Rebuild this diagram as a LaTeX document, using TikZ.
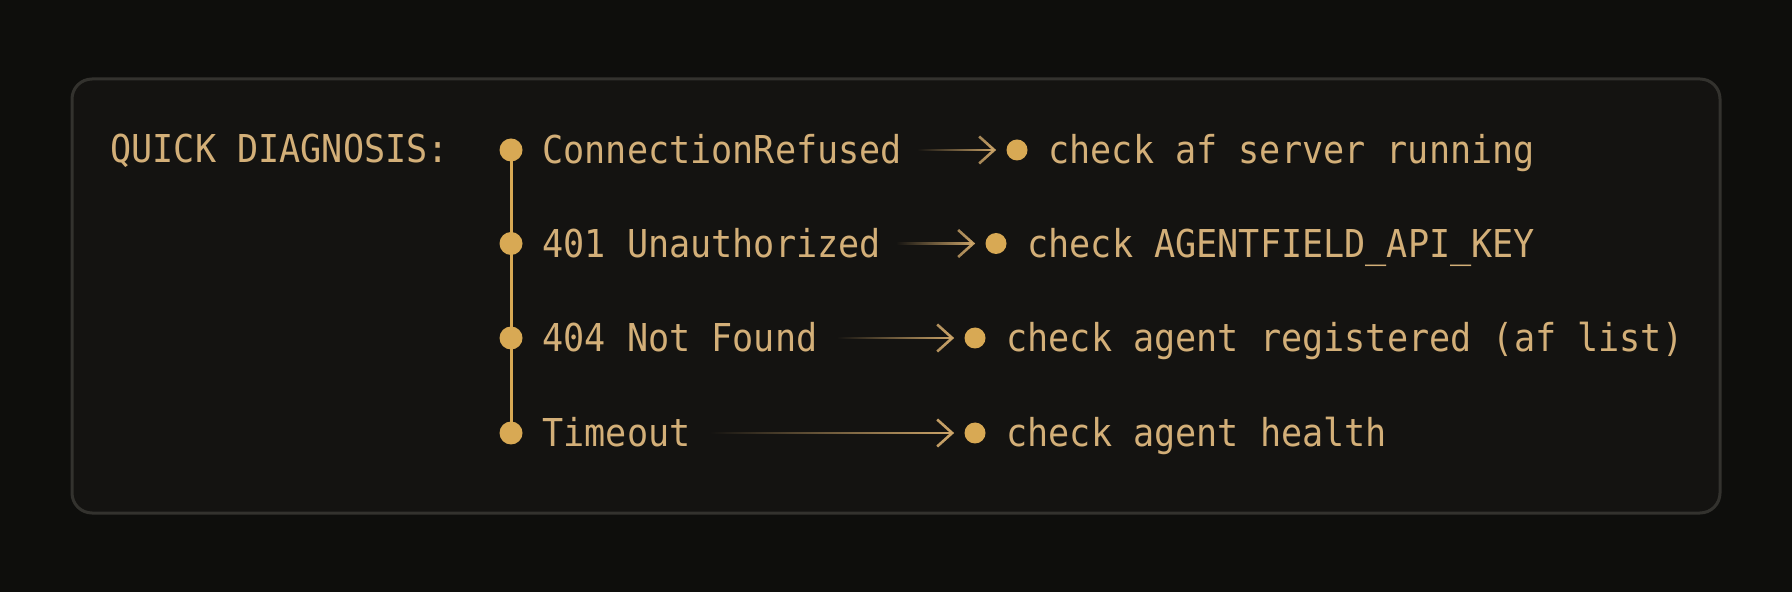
\documentclass[tikz,border=0pt]{standalone}
\usepackage{fontspec}
\newfontfamily\diagmono[FakeStretch=0.915]{DejaVu Sans Mono}
\usetikzlibrary{arrows.meta,fadings}
\definecolor{bgc}{HTML}{0E0E0C}
\definecolor{boxfill}{HTML}{141311}
\definecolor{boxline}{HTML}{33322E}
\definecolor{goldtxt}{HTML}{D3AF78}
\definecolor{golddot}{HTML}{D8A954}
\definecolor{goldarrow}{HTML}{D0A86B}
\tikzfading[name=arrowfade, left color=transparent!100, right color=transparent!0]
\tikzset{
  lbl/.style={text=goldtxt, inner sep=0pt, anchor=base west, font=\diagmono\fontsize{19.2pt}{23pt}\selectfont},
  ldot/.style={circle, fill=golddot, inner sep=0pt, minimum size=11.5pt},
  rdot/.style={circle, fill=golddot, inner sep=0pt, minimum size=10.5pt},
  vline/.style={draw=golddot, line width=1.5pt},
  conn/.style={draw=goldarrow, line width=1.4pt, path fading=arrowfade,
    -{Straight Barb[length=7.5pt, width=13.5pt, line width=1.3pt]}},
}
\begin{document}
\begin{tikzpicture}[x=0.5pt, y=-0.5pt]
\useasboundingbox (0,0) rectangle (1792,592);
\fill[bgc] (0,0) rectangle (1792,592);
\draw[boxline, fill=boxfill, line width=1.5pt, rounded corners=10pt] (72,79) rectangle (1720,513);

\node[lbl] (title) at (110,163) {QUICK DIAGNOSIS:};

% left dots and spine
\node[ldot] (d1) at (511,150) {};
\node[ldot] (d2) at (511,243.5) {};
\node[ldot] (d3) at (511,338) {};
\node[ldot] (d4) at (511,433) {};
\draw[vline] (d1.center) -- (d4.center);

% left labels
\node[lbl] (l1) at (542,164) {ConnectionRefused};
\node[lbl] (l2) at (542,257.5) {401 Unauthorized};
\node[lbl] (l3) at (542,352) {404 Not Found};
\node[lbl] (l4) at (542,447) {Timeout};

% right dots
\node[rdot] (r1) at (1017,150) {};
\node[rdot] (r2) at (996,243.5) {};
\node[rdot] (r3) at (975,338) {};
\node[rdot] (r4) at (975,433) {};

% right texts
\node[lbl] (t1) at (1048,164) {check af server running};
\node[lbl] (t2) at (1027,257.5) {check AGENTFIELD\_API\_KEY};
\node[lbl] (t3) at (1006,352) {check agent registered (af list)};
\node[lbl] (t4) at (1006,447) {check agent health};

% connectors (leading move-tos widen the fading box so the tip stays visible)
\draw[conn] ([xshift=8pt,yshift=10pt]l1.east |- r1.center) ([xshift=8pt,yshift=-10pt]l1.east |- r1.center)
  ([xshift=8pt]l1.east |- r1.center) -- ([xshift=-5pt]r1.west);
\draw[conn] ([xshift=8pt,yshift=10pt]l2.east |- r2.center) ([xshift=8pt,yshift=-10pt]l2.east |- r2.center)
  ([xshift=8pt]l2.east |- r2.center) -- ([xshift=-5pt]r2.west);
\draw[conn] ([xshift=10pt,yshift=10pt]l3.east |- r3.center) ([xshift=10pt,yshift=-10pt]l3.east |- r3.center)
  ([xshift=10pt]l3.east |- r3.center) -- ([xshift=-5pt]r3.west);
\draw[conn] ([xshift=10pt,yshift=10pt]l4.east |- r4.center) ([xshift=10pt,yshift=-10pt]l4.east |- r4.center)
  ([xshift=10pt]l4.east |- r4.center) -- ([xshift=-5pt]r4.west);
\end{tikzpicture}
\end{document}
